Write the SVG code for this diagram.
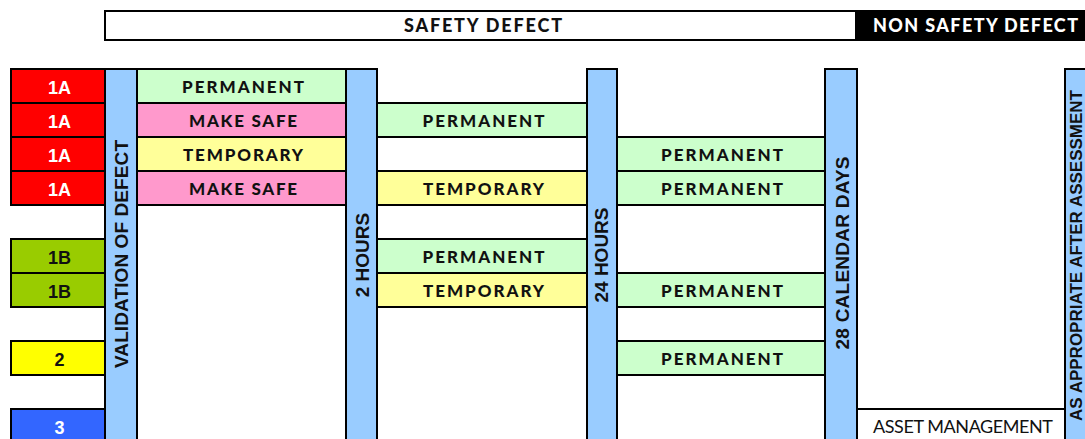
<svg xmlns="http://www.w3.org/2000/svg" width="1085" height="439" viewBox="0 0 1085 439">
<style>
.c{stroke:#000;stroke-width:2}
.red{fill:#FF0000}.olive{fill:#99CC00}.yel{fill:#FFFF00}.blu{fill:#3366FF}
.bar{fill:#99CCFF}.grn{fill:#CCFFCC}.pnk{fill:#FF99CC}.lyl{fill:#FFFF99}.wht{fill:#FFFFFF}
.lv{font-family:"Liberation Sans",Arial,sans-serif;font-weight:700;font-size:18px;text-anchor:middle}
.ct{font-family:Lato,"Open Sans",sans-serif;font-weight:900;font-size:17px;text-anchor:middle;fill:#111}
.hd{font-family:Lato,"Open Sans",sans-serif;font-weight:900;font-size:18px;text-anchor:middle}
.vt{font-family:"Liberation Sans",Arial,sans-serif;font-weight:700;font-size:19px;text-anchor:middle;fill:#111}
.am{font-family:Lato,"Open Sans",sans-serif;font-weight:400;font-size:18px;fill:#111}
</style>
<rect width="1085" height="439" fill="#FFFFFF"/>
<g id="header">
  <rect class="c wht" x="105" y="11" width="751" height="29"/>
  <rect x="856" y="10" width="240" height="31" fill="#000"/>
  <text class="hd" x="483" y="31.5" textLength="158" lengthAdjust="spacing" fill="#111">SAFETY DEFECT</text>
  <text class="hd" x="975.5" y="31.5" textLength="205" lengthAdjust="spacing" fill="#FFFFFF">NON SAFETY DEFECT</text>
</g>
<g id="levels">
  <g id="lvl-1a-1"><rect class="c red" x="11" y="69" width="94" height="34"/><text class="lv" x="59.5" y="94" fill="#FFFFFF">1A</text></g>
  <g id="lvl-1a-2"><rect class="c red" x="11" y="103" width="94" height="34"/><text class="lv" x="59.5" y="128" fill="#FFFFFF">1A</text></g>
  <g id="lvl-1a-3"><rect class="c red" x="11" y="137" width="94" height="34"/><text class="lv" x="59.5" y="162" fill="#FFFFFF">1A</text></g>
  <g id="lvl-1a-4"><rect class="c red" x="11" y="171" width="94" height="34"/><text class="lv" x="59.5" y="196" fill="#FFFFFF">1A</text></g>
  <g id="lvl-1b-1"><rect class="c olive" x="11" y="239" width="94" height="34"/><text class="lv" x="59.5" y="264" fill="#111">1B</text></g>
  <g id="lvl-1b-2"><rect class="c olive" x="11" y="273" width="94" height="34"/><text class="lv" x="59.5" y="298" fill="#111">1B</text></g>
  <g id="lvl-2"><rect class="c yel" x="11" y="341" width="94" height="34"/><text class="lv" x="59.5" y="366" fill="#111">2</text></g>
  <g id="lvl-3"><rect class="c blu" x="11" y="409" width="94" height="40"/><text class="lv" x="59.5" y="434" fill="#FFFFFF">3</text></g>
</g>
<g id="col1">
  <g id="c1-r0"><rect class="c grn" x="137" y="69" width="209" height="34"/><text class="ct" x="243" y="93" textLength="122" lengthAdjust="spacing">PERMANENT</text></g>
  <g id="c1-r1"><rect class="c pnk" x="137" y="103" width="209" height="34"/><text class="ct" x="243" y="127" textLength="108" lengthAdjust="spacing">MAKE SAFE</text></g>
  <g id="c1-r2"><rect class="c lyl" x="137" y="137" width="209" height="34"/><text class="ct" x="243" y="161" textLength="120" lengthAdjust="spacing">TEMPORARY</text></g>
  <g id="c1-r3"><rect class="c pnk" x="137" y="171" width="209" height="34"/><text class="ct" x="243" y="195" textLength="108" lengthAdjust="spacing">MAKE SAFE</text></g>
</g>
<g id="col2">
  <g id="c2-r1"><rect class="c grn" x="377" y="103" width="210" height="34"/><text class="ct" x="483.5" y="127" textLength="122" lengthAdjust="spacing">PERMANENT</text></g>
  <g id="c2-r2"><rect class="c wht" x="377" y="137" width="210" height="34"/></g>
  <g id="c2-r3"><rect class="c lyl" x="377" y="171" width="210" height="34"/><text class="ct" x="483.5" y="195" textLength="121" lengthAdjust="spacing">TEMPORARY</text></g>
  <g id="c2-r5"><rect class="c grn" x="377" y="239" width="210" height="34"/><text class="ct" x="483.5" y="263" textLength="122" lengthAdjust="spacing">PERMANENT</text></g>
  <g id="c2-r6"><rect class="c lyl" x="377" y="273" width="210" height="34"/><text class="ct" x="483.5" y="297" textLength="121" lengthAdjust="spacing">TEMPORARY</text></g>
</g>
<g id="col3">
  <g id="c3-r2"><rect class="c grn" x="617" y="137" width="208" height="34"/><text class="ct" x="722" y="161" textLength="122" lengthAdjust="spacing">PERMANENT</text></g>
  <g id="c3-r3"><rect class="c grn" x="617" y="171" width="208" height="34"/><text class="ct" x="722" y="195" textLength="122" lengthAdjust="spacing">PERMANENT</text></g>
  <g id="c3-r6"><rect class="c grn" x="617" y="273" width="208" height="34"/><text class="ct" x="722" y="297" textLength="122" lengthAdjust="spacing">PERMANENT</text></g>
  <g id="c3-r7"><rect class="c wht" x="617" y="307" width="208" height="34"/></g>
  <g id="c3-r8"><rect class="c grn" x="617" y="341" width="208" height="34"/><text class="ct" x="722" y="365" textLength="122" lengthAdjust="spacing">PERMANENT</text></g>
</g>
<g id="asset-management">
  <rect class="c wht" x="857" y="409" width="208" height="40"/>
  <text class="am" x="873" y="433" textLength="180" lengthAdjust="spacing">ASSET MANAGEMENT</text>
</g>
<g id="bars">
  <g id="bar-validation"><rect class="c bar" x="105" y="69" width="32" height="380"/><text class="vt" transform="translate(128,254) rotate(-90)" textLength="228" lengthAdjust="spacing">VALIDATION OF DEFECT</text></g>
  <g id="bar-2h"><rect class="c bar" x="346" y="69" width="31" height="380"/><text class="vt" transform="translate(369,255) rotate(-90)">2 HOURS</text></g>
  <g id="bar-24h"><rect class="c bar" x="587" y="69" width="30" height="380"/><text class="vt" transform="translate(608,255) rotate(-90)">24 HOURS</text></g>
  <g id="bar-28d"><rect class="c bar" x="825" y="69" width="32" height="380"/><text class="vt" transform="translate(849,253) rotate(-90)" textLength="193" lengthAdjust="spacing">28 CALENDAR DAYS</text></g>
  <g id="bar-assess"><rect class="c bar" x="1065" y="69" width="32" height="380"/><text class="vt" style="font-size:17px" transform="translate(1082,255.5) rotate(-90)" textLength="331" lengthAdjust="spacing">AS APPROPRIATE AFTER ASSESSMENT</text></g>
</g>
<g id="connectors"></g>
</svg>
